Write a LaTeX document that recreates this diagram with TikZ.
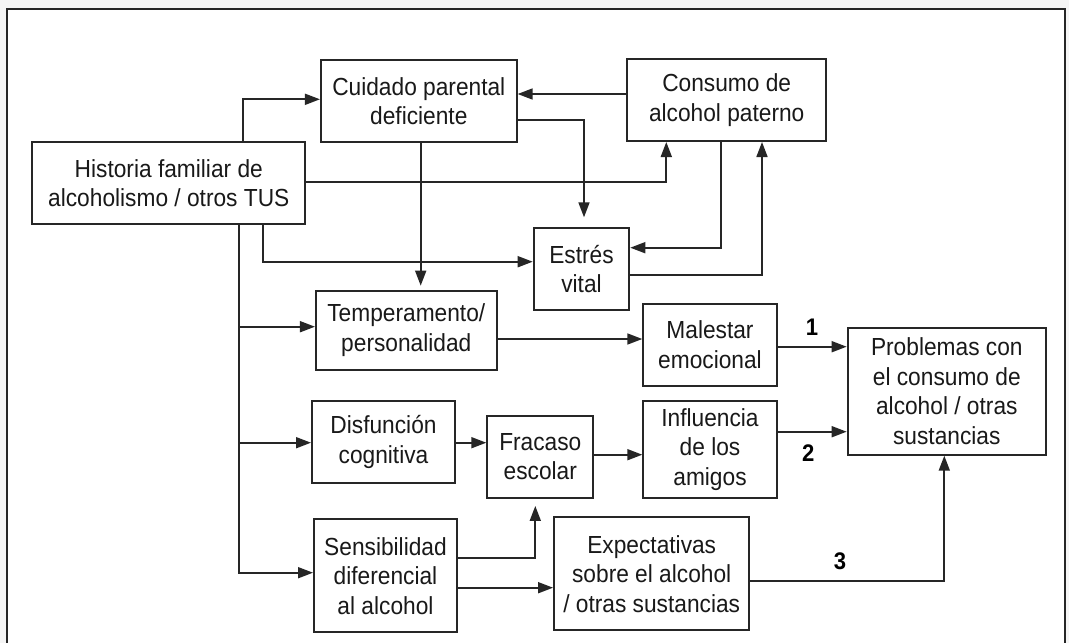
\documentclass[tikz,border=0pt]{standalone}
\usepackage{fontspec}
\setmainfont{Liberation Sans}[FakeStretch=0.92]
\usetikzlibrary{arrows.meta}
\begin{document}
\begin{tikzpicture}[x=1pt,y=-1pt,
  box/.style={draw=black!85, line width=2pt, align=center, inner sep=0pt,
    font=\fontsize{24.7}{29.5}\selectfont, text=black!90},
  arr/.style={draw=black!85, line width=1.7pt, -{Triangle[length=15pt,width=11pt]}},
  lbl/.style={font=\fontsize{24}{28}\selectfont\bfseries, text=black}]
\useasboundingbox (0,0) rectangle (1069,643);
\fill[gray!8] (0,0) rectangle (1069,643);
\fill[white] (7.3,9) rectangle (1065.3,700);
\draw[line width=2pt, black!85] (7.3,700) -- (7.3,9) -- (1065.3,9) -- (1065.3,700);

% boxes
\node[box, minimum width=273pt, minimum height=81.7pt] (hist) at (168.8,183.2) {Historia familiar de\\alcoholismo / otros TUS};
\node[box, minimum width=195.7pt, minimum height=82pt] (cuid) at (418.8,101.3) {Cuidado parental\\deficiente};
\node[box, minimum width=198.7pt, minimum height=82pt] (cons) at (726.7,100) {Consumo de\\alcohol paterno};
\node[box, minimum width=95.6pt, minimum height=82pt] (estr) at (581.5,269) {Estrés\\vital};
\node[box, minimum width=180.7pt, minimum height=79.3pt] (temp) at (406.3,330.3) {Temperamento/\\personalidad};
\node[box, minimum width=133.4pt, minimum height=82pt] (male) at (710,344.7) {Malestar\\emocional};
\node[box, minimum width=198.3pt, minimum height=127pt] (prob) at (946.8,391.2) {Problemas con\\el consumo de\\alcohol / otras\\sustancias};
\node[box, minimum width=143pt, minimum height=82.6pt] (disf) at (383.5,442) {Disfunción\\cognitiva};
\node[box, minimum width=106pt, minimum height=82.3pt] (frac) at (540.3,456.8) {Fracaso\\escolar};
\node[box, minimum width=133.4pt, minimum height=97.3pt] (infl) at (710,449.3) {Influencia\\de los\\amigos};
\node[box, minimum width=143pt, minimum height=113.3pt] (sens) at (385.5,575.7) {Sensibilidad\\diferencial\\al alcohol};
\node[box, minimum width=195.3pt, minimum height=113.3pt] (expe) at (651.7,573.7) {Expectativas\\sobre el alcohol\\/ otras sustancias};

% helper coordinates
\coordinate (a1) at (242.7,99.3);
\coordinate (a2) at (0,94);
\coordinate (a3) at (584,120);
\coordinate (a4) at (666.3,182);
\coordinate (a5) at (420.7,0);
\coordinate (a6) at (263.3,261.7);
\coordinate (a7) at (721,247.7);
\coordinate (a8) at (762,275.3);
\coordinate (t1) at (239,326.7);
\coordinate (t2) at (239,442.7);
\coordinate (t3) at (239,572.7);
\coordinate (b1) at (0,339);
\coordinate (b2) at (0,346.7);
\coordinate (b3) at (0,442.7);
\coordinate (b4) at (0,454.7);
\coordinate (b5) at (0,431.7);
\coordinate (b6) at (535.3,558.3);
\coordinate (b7) at (0,587.7);
\coordinate (b8) at (944.3,580.7);

% connectors
\draw[arr] (hist.north -| a1) |- (cuid.west |- a1);
\draw[arr] (cons.west |- a2) -- (cuid.east |- a2);
\draw[arr, shorten >=9.7pt] (cuid.east |- a3) -| (estr.north -| a3);
\draw[arr] (hist.east |- a4) -| (cons.south -| a4);
\draw[arr, shorten >=4pt] (cuid.south -| a5) -- (temp.north -| a5);
\draw[arr] (hist.south -| a6) |- (estr.west |- a6);
\draw[arr] (cons.south -| a7) |- (estr.east |- a7);
\draw[arr] (estr.east |- a8) -| (cons.south -| a8);

\draw[arr] (hist.south -| t3) |- (sens.west |- t3);
\draw[arr] (t1) -- (temp.west |- t1);
\draw[arr] (t2) -- (disf.west |- t2);

\draw[arr] (temp.east |- b1) -- (male.west |- b1);
\draw[arr] (male.east |- b2) -- (prob.west |- b2);
\draw[arr] (disf.east |- b3) -- (frac.west |- b3);
\draw[arr] (frac.east |- b4) -- (infl.west |- b4);
\draw[arr] (infl.east |- b5) -- (prob.west |- b5);
\draw[arr, shorten >=7pt] (sens.east |- b6) -| (frac.south -| b6);
\draw[arr] (sens.east |- b7) -- (expe.west |- b7);
\draw[arr] (expe.east |- b8) -| (prob.south -| b8);

% labels
\node[lbl] (n1) at (812,327) {1};
\node[lbl] (n2) at (808.3,452.7) {2};
\node[lbl] (n3) at (840,561.7) {3};
\end{tikzpicture}
\end{document}
